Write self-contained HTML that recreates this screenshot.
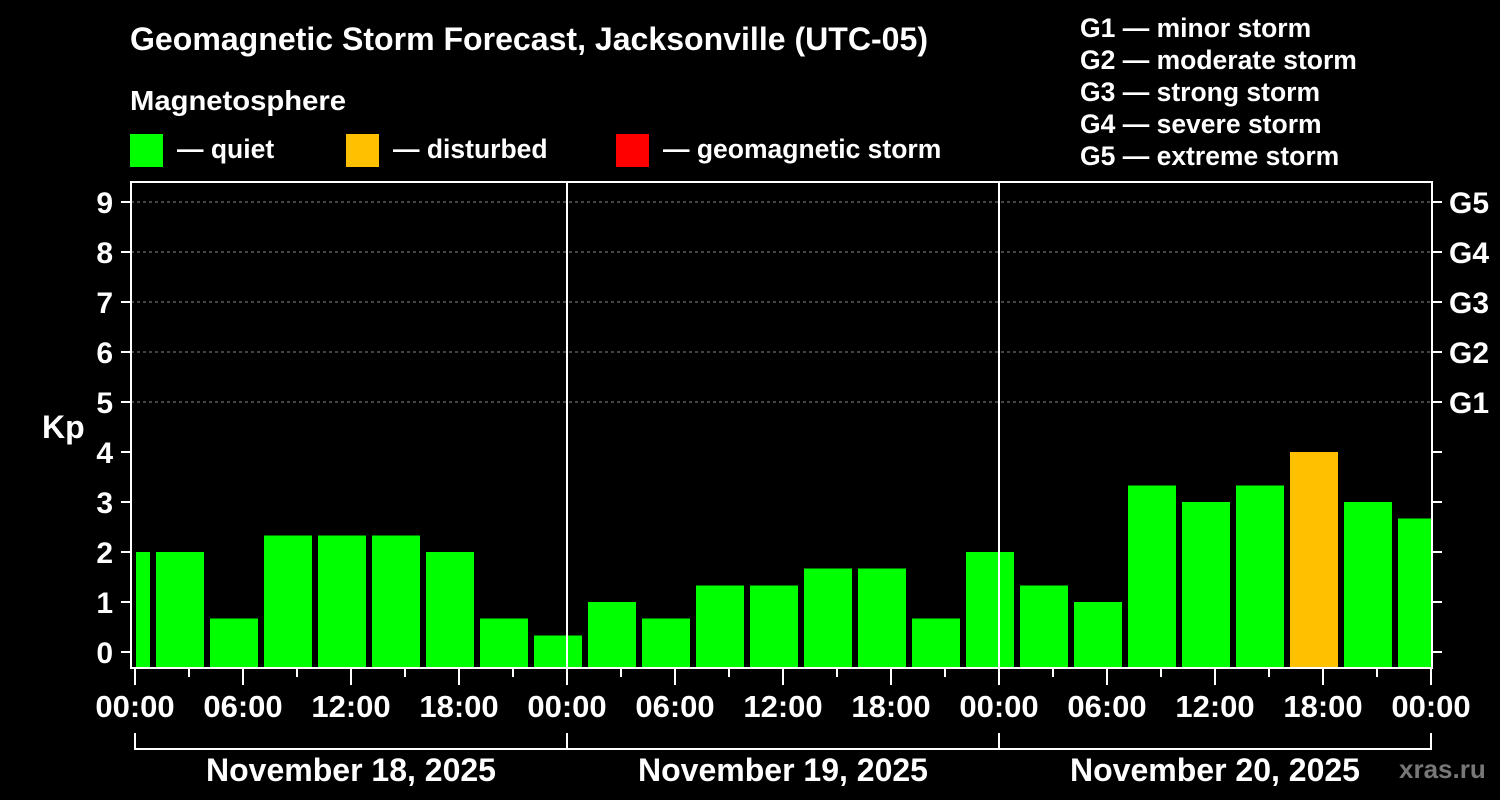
<!DOCTYPE html>
<html><head><meta charset="utf-8"><style>
html,body{margin:0;padding:0;background:#000;}
svg{display:block;font-family:"Liberation Sans",Arial,sans-serif;font-weight:bold;}
</style></head><body>
<svg id="chart" width="1500" height="800" viewBox="0 0 1500 800">
<rect width="1500" height="800" fill="#000"/>
<text x="130" y="50" fill="#fff" font-size="32" textLength="798" lengthAdjust="spacingAndGlyphs">Geomagnetic Storm Forecast, Jacksonville (UTC-05)</text>
<text x="130" y="110" fill="#fff" font-size="28" textLength="216" lengthAdjust="spacingAndGlyphs">Magnetosphere</text>
<g>
<rect x="130" y="134" width="33" height="33" fill="#00ff00"/>
<text x="177" y="158" fill="#fff" font-size="26.5">— quiet</text>
<rect x="346" y="134" width="33" height="33" fill="#ffc000"/>
<text x="393" y="158" fill="#fff" font-size="26.5">— disturbed</text>
<rect x="616" y="134" width="33" height="33" fill="#ff0000"/>
<text x="663" y="158" fill="#fff" font-size="26.5">— geomagnetic storm</text>
</g>
<g fill="#fff" font-size="26.5">
<text x="1080" y="37">G1 — minor storm</text>
<text x="1080" y="69">G2 — moderate storm</text>
<text x="1080" y="101">G3 — strong storm</text>
<text x="1080" y="133">G4 — severe storm</text>
<text x="1080" y="165">G5 — extreme storm</text>
</g>
<text x="42" y="438" fill="#fff" font-size="32">Kp</text>
<text x="1399" y="778" fill="#777" font-size="26">xras.ru</text>
<g id="plot"></g>
</svg>
<script>
const kpValues=[2,2,0.67,2.33,2.33,2.33,2,0.67,0.33,1,0.67,1.33,1.33,1.67,1.67,0.67,2,1.33,1,3.33,3,3.33,4,3,2.67];
const binStartHours=[-2,1,4,7,10,13,16,19,22,25,28,31,34,37,40,43,46,49,52,55,58,61,64,67,70];
const yTicks=[0,1,2,3,4,5,6,7,8,9];
const gLabels=["G1","G2","G3","G4","G5"];
const gLevels=[5,6,7,8,9];
const xTickLabels=["00:00","06:00","12:00","18:00","00:00","06:00","12:00","18:00","00:00","06:00","12:00","18:00","00:00"];
const dayLabels=["November 18, 2025","November 19, 2025","November 20, 2025"];
const NS="http://www.w3.org/2000/svg";
const plot=document.getElementById('plot');
const L=131,R=1432,T=182,B=668,X0=135,PXH=18;
function xs(h){return X0+h*PXH;}
function ys(v){return 652-v*50;}
function mk(tag,a){const e=document.createElementNS(NS,tag);for(const k in a)e.setAttribute(k,a[k]);plot.appendChild(e);return e;}
gLevels.forEach(v=>{const e=mk('line',{x1:L,x2:R,y1:ys(v),y2:ys(v),stroke:'#888','stroke-dasharray':'3,3','stroke-width':1});

});
kpValues.forEach((v,i)=>{let x1=Math.max(xs(binStartHours[i])+3,X0+1),x2=Math.min(xs(binStartHours[i]+3)-3,R-1);
const col=v>=5?'#ff0000':(v>=4?'#ffc000':'#00ff00');
const e=mk('rect',{x:x1,y:ys(v),width:x2-x1,height:B-ys(v),fill:col});

});
[24,48].forEach(h=>{const e=mk('line',{x1:xs(h),x2:xs(h),y1:T,y2:B,stroke:'#fff','stroke-width':2});

});
const fr=mk('rect',{x:L,y:T,width:R-L,height:B-T,fill:'none',stroke:'#fff','stroke-width':2});


yTicks.forEach(v=>{const y=ys(v);
mk('line',{x1:121,x2:L,y1:y,y2:y,stroke:'#fff','stroke-width':2});
mk('line',{x1:R,x2:1442,y1:y,y2:y,stroke:'#fff','stroke-width':2});
const t=mk('text',{x:113,y:y+11,fill:'#fff','font-size':30,'text-anchor':'end'});t.textContent=v;

});
gLabels.forEach((g,i)=>{const t=mk('text',{x:1449,y:ys(gLevels[i])+11,fill:'#fff','font-size':30});t.textContent=g;

});
for(let h=0;h<=72;h+=3){const major=h%6===0;mk('line',{x1:xs(h),x2:xs(h),y1:B,y2:major?685:677,stroke:'#fff','stroke-width':2});}
xTickLabels.forEach((s,i)=>{const t=mk('text',{x:xs(i*6),y:717,fill:'#fff','font-size':31,'text-anchor':'middle'});t.textContent=s;

});
const br=mk('path',{d:`M${xs(0)},733V749H${xs(72)}V733M${xs(24)},733V749M${xs(48)},733V749`,fill:'none',stroke:'#fff','stroke-width':2});


dayLabels.forEach((s,i)=>{const t=mk('text',{x:xs(i*24+12),y:781,fill:'#fff','font-size':32,'text-anchor':'middle'});t.textContent=s;

});
</script>
</body></html>
